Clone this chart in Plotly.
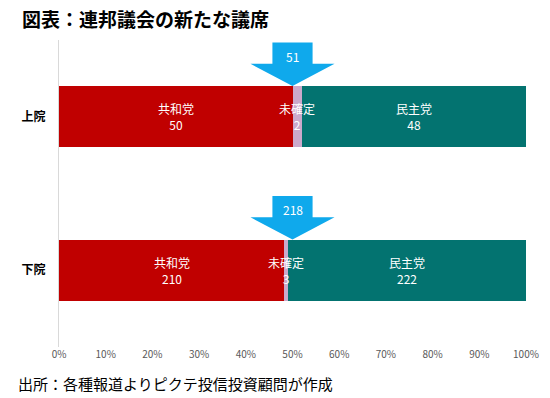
import plotly.graph_objects as go

chambers = ["下院", "上院"]
parties = ["共和党", "未確定", "民主党"]
seats = {
    "共和党": [210, 50],
    "未確定": [3, 2],
    "民主党": [222, 48],
}
majority = [218, 51]
colors = {"共和党": "#C00000", "未確定": "#CBA9CB", "民主党": "#037370"}
xticks = [0, 10, 20, 30, 40, 50, 60, 70, 80, 90, 100]
xticklabels = [f"{v}%" for v in xticks]

FONT = "Noto Sans CJK JP"
totals = [sum(seats[p][i] for p in parties) for i in range(len(chambers))]

fig = go.Figure()
for p in parties:
    pct = [seats[p][i] / totals[i] * 100 for i in range(len(chambers))]
    fig.add_trace(go.Bar(
        y=[0, 1], x=pct, orientation="h", name=p,
        marker=dict(color=colors[p], line=dict(width=0)),
        width=0.4, hoverinfo="skip", showlegend=False,
    ))

annotations = []
for i in range(len(chambers)):
    cum = 0
    for p in parties:
        pct = seats[p][i] / totals[i] * 100
        mid = cum + pct / 2
        cum += pct
        annotations.append(dict(
            x=mid, y=i, xref="x", yref="y", showarrow=False,
            text=f"{p}<br>{seats[p][i]}",
            font=dict(family=FONT, size=12, color="white"),
            align="center",
        ))

# arrows marking the majority line
shapes = []
ax = 50
bw, hw = 4.3, 9.0
for i in range(len(chambers)):
    tip = i + 0.2
    hb = tip + 0.145
    top = tip + 0.283
    path = (f"M {ax-bw},{top} L {ax+bw},{top} L {ax+bw},{hb} L {ax+hw},{hb} "
            f"L {ax},{tip} L {ax-hw},{hb} L {ax-bw},{hb} Z")
    shapes.append(dict(type="path", path=path, xref="x", yref="y",
                       fillcolor="#0FA9EC", line=dict(width=0), layer="above"))
    annotations.append(dict(
        x=ax, y=tip + 0.195, xref="x", yref="y", showarrow=False,
        text=str(majority[i]), font=dict(family=FONT, size=12, color="white"),
    ))

W, H = 550, 398
L, R, T, B = 59, 24, 40, 51
pw, ph = W - L - R, H - T - B


def px2paper(px, py):
    return (px - L) / pw, 1 - (py - T) / ph


tx, ty = px2paper(20, 19)
annotations.append(dict(
    x=tx, y=ty, xref="paper", yref="paper", showarrow=False,
    text="<b>図表：連邦議会の新たな議席</b>", xanchor="left", yanchor="middle",
    font=dict(family=FONT, size=19, color="black"),
))
fx, fy = px2paper(16, 383)
annotations.append(dict(
    x=fx, y=fy, xref="paper", yref="paper", showarrow=False,
    text="出所：各種報道よりピクテ投信投資顧問が作成",
    xanchor="left", yanchor="middle", font=dict(family=FONT, size=15, color="black"),
))

fig.update_layout(
    barmode="stack",
    width=W, height=H,
    margin=dict(l=L, r=R, t=T, b=B),
    paper_bgcolor="white", plot_bgcolor="white",
    shapes=shapes, annotations=annotations,
    xaxis=dict(range=[0, 100], tickmode="array", tickvals=xticks, ticktext=xticklabels,
               showgrid=False, zeroline=False, showline=False,
               tickfont=dict(family=FONT, size=10, color="#595959")),
    yaxis=dict(range=[-0.5, 1.5], tickvals=[0, 1],
               ticktext=[f"<b>{c}</b>" for c in chambers],
               showgrid=False, zeroline=False, showline=True,
               linecolor="#D9D9D9", linewidth=1, ticks="", ticklen=0,
               ticklabelstandoff=10,
               tickfont=dict(family=FONT, size=12, color="black")),
)

fig.write_html("out.html", config={"displayModeBar": False},
               post_script="document.body.style.margin='0';")
